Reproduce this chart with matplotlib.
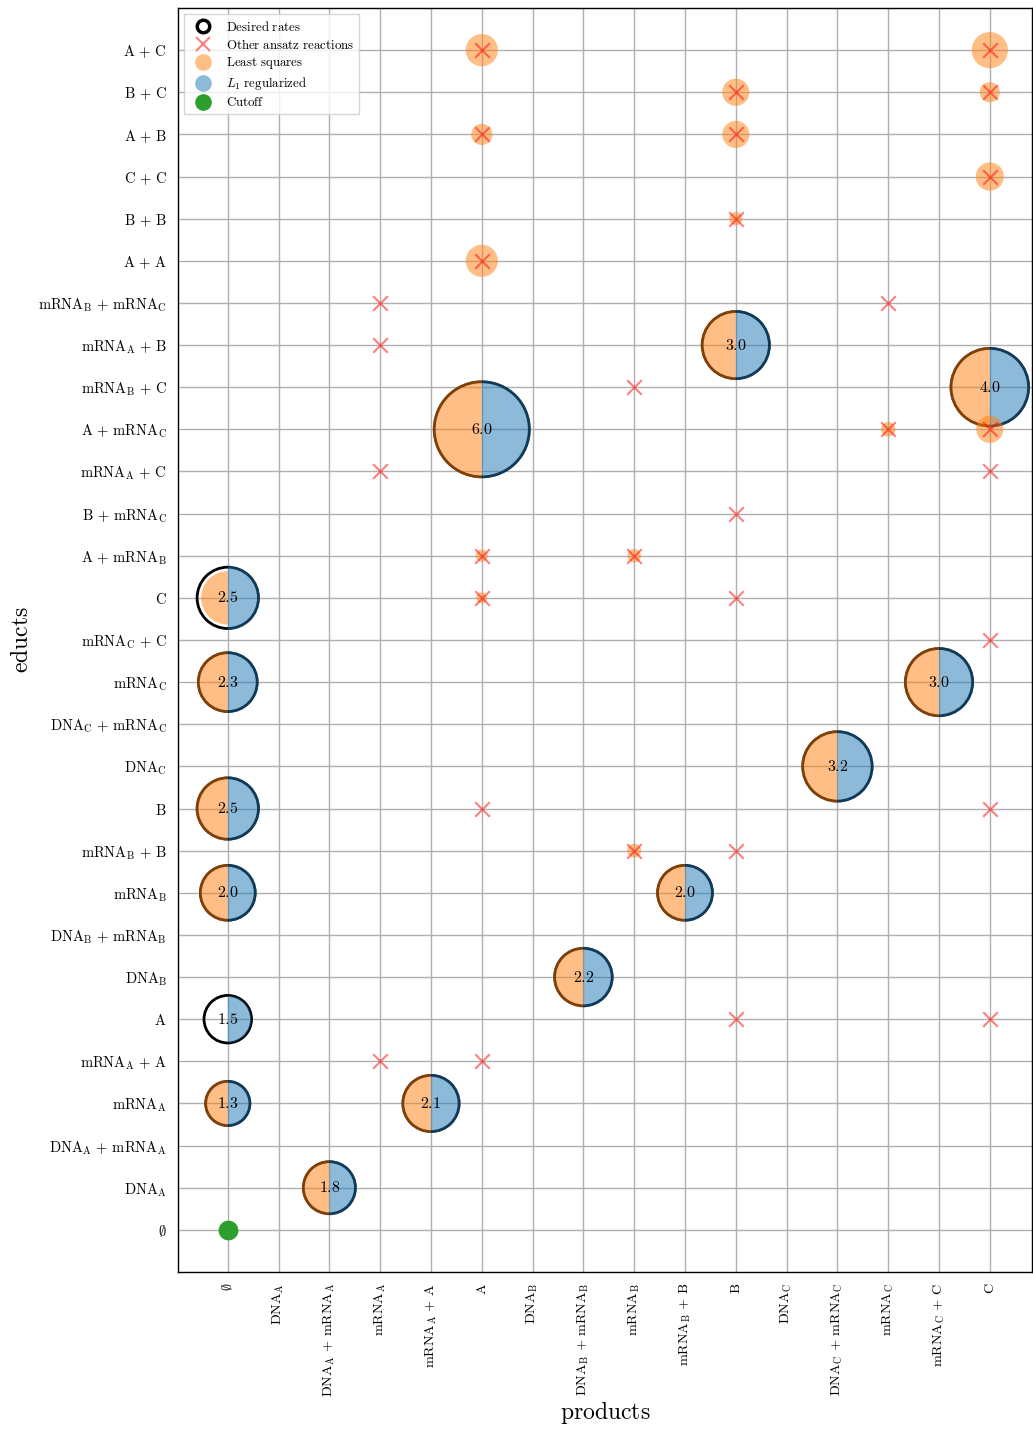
import matplotlib
matplotlib.use("Agg")
import matplotlib.pyplot as plt
from matplotlib.markers import MarkerStyle
from matplotlib.lines import Line2D

plt.rcParams['mathtext.fontset'] = 'cm'
plt.rcParams['font.family'] = ['DejaVu Serif']

def m(s):
    return r'$' + s + r'$'

R = r'\mathrm'
P = r'\,+\,'
educts = [r'\emptyset', R+'{DNA}_'+R+'{A}', R+'{DNA}_'+R+'{A}'+P+R+'{mRNA}_'+R+'{A}',
          R+'{mRNA}_'+R+'{A}', R+'{mRNA}_'+R+'{A}'+P+R+'{A}', R+'{A}',
          R+'{DNA}_'+R+'{B}', R+'{DNA}_'+R+'{B}'+P+R+'{mRNA}_'+R+'{B}',
          R+'{mRNA}_'+R+'{B}', R+'{mRNA}_'+R+'{B}'+P+R+'{B}', R+'{B}',
          R+'{DNA}_'+R+'{C}', R+'{DNA}_'+R+'{C}'+P+R+'{mRNA}_'+R+'{C}',
          R+'{mRNA}_'+R+'{C}', R+'{mRNA}_'+R+'{C}'+P+R+'{C}', R+'{C}',
          R+'{A}'+P+R+'{mRNA}_'+R+'{B}', R+'{B}'+P+R+'{mRNA}_'+R+'{C}',
          R+'{mRNA}_'+R+'{A}'+P+R+'{C}', R+'{A}'+P+R+'{mRNA}_'+R+'{C}',
          R+'{mRNA}_'+R+'{B}'+P+R+'{C}', R+'{mRNA}_'+R+'{A}'+P+R+'{B}',
          R+'{mRNA}_'+R+'{B}'+P+R+'{mRNA}_'+R+'{C}',
          R+'{A}'+P+R+'{A}', R+'{B}'+P+R+'{B}', R+'{C}'+P+R+'{C}',
          R+'{A}'+P+R+'{B}', R+'{B}'+P+R+'{C}', R+'{A}'+P+R+'{C}']
products = educts[:16]

# desired reactions: (product index, educt index, desired rate, least squares, L1)
des_prod = [2, 0, 4, 0, 7, 0, 9, 0, 12, 0, 14, 0, 5, 15, 10]
des_educ = [1, 3, 3, 5, 6, 8, 8, 10, 11, 13, 13, 15, 19, 20, 21]
des_val  = [1.8, 1.3, 2.1, 1.5, 2.2, 2.0, 2.0, 2.5, 3.2, 2.3, 3.0, 2.5, 6.0, 4.0, 3.0]
des_ls   = [1.8, 1.3, 2.1, 0.0, 2.2, 2.0, 2.0, 2.5, 3.2, 2.3, 3.0, 1.7, 6.0, 4.0, 3.0]
des_l1   = [1.8, 1.3, 2.1, 1.3, 2.2, 2.0, 2.0, 2.5, 3.2, 2.3, 3.0, 2.5, 6.0, 4.0, 3.0]

# other ansatz reactions: (product, educt, least squares value)
oth_prod = [3, 5, 10, 15, 8, 10, 5, 15, 15, 5, 10, 5, 8, 10, 3, 15, 13, 15, 8, 3, 3, 13,
            5, 10, 15, 5, 10, 10, 15, 5, 15]
oth_educ = [4, 4, 5, 5, 9, 9, 10, 10, 14, 15, 15, 16, 16, 17, 18, 18, 19, 19, 20, 21, 22, 22,
            23, 24, 25, 26, 26, 27, 27, 28, 28]
oth_ls   = [0, 0, 0, 0, 0.13, 0, 0, 0, 0, 0.08, 0, 0.1, 0.12, 0, 0, 0, 0.14, 0.49, 0, 0, 0, 0,
            0.69, 0.12, 0.53, 0.3, 0.49, 0.49, 0.27, 0.69, 0.87]

cutoff_prod = [0]
cutoff_educ = [0]
cutoff_val = [0.26]

K = 780.0
RING_LW = 2.0

def half_size(v):
    if v <= 0:
        return 0.0
    return ((K * v) ** 0.5 + RING_LW) ** 2

fig = plt.figure(figsize=(10.33, 14.30), dpi=100)
ax = fig.add_axes([0.1723, 0.1105, 0.8267, 0.8839])

ax.set_axisbelow(True)
ax.grid(True, color='#b0b0b0', linewidth=1.0)

# desired rings
ax.scatter(des_prod, des_educ, s=[K * v for v in des_val], facecolors='none',
           edgecolors='black', linewidths=RING_LW, zorder=2)
left = MarkerStyle('o', fillstyle='left')
right = MarkerStyle('o', fillstyle='right')
ax.scatter(des_prod, des_educ, s=[half_size(v) for v in des_ls], marker=left,
           color='tab:orange', alpha=0.5, linewidths=0, zorder=3)
ax.scatter(des_prod, des_educ, s=[half_size(v) for v in des_l1], marker=right,
           color='tab:blue', alpha=0.5, linewidths=0, zorder=3)
# least squares for other reactions
ax.scatter(oth_prod, oth_educ, s=[K * v for v in oth_ls], color='tab:orange',
           alpha=0.5, linewidths=0, zorder=3)
ax.scatter(oth_prod, oth_educ, s=110, marker='x', color='red', alpha=0.5,
           linewidths=1.5, zorder=4)
ax.scatter(cutoff_prod, cutoff_educ, s=[K * v for v in cutoff_val], color='tab:green',
           linewidths=0, zorder=4)

for p, e, v in zip(des_prod, des_educ, des_val):
    ax.text(p, e, m(R + '{%.1f}' % v), ha='center', va='center', fontsize=11.5, zorder=5)

ax.set_xticks(range(len(products)))
ax.set_xticklabels([m(s) for s in products], rotation=90, fontsize=10.2)
ax.set_yticks(range(len(educts)))
ax.set_yticklabels([m(s) for s in educts], fontsize=10.5)
ax.tick_params(length=0, pad=8)
ax.set_xlim(-0.98, 15.83)
ax.set_ylim(-1, 29)
for sp in ax.spines.values():
    sp.set_color('black')
    sp.set_linewidth(1.0)

ax.set_xlabel(m(R + '{products}'), fontsize=17, labelpad=1)
ax.set_ylabel(m(R + '{educts}'), fontsize=17)

handles = [
    Line2D([], [], marker='o', linestyle='none', markerfacecolor='none',
           markeredgecolor='black', markeredgewidth=2.5, markersize=9),
    Line2D([], [], marker='x', linestyle='none', color='red', alpha=0.5,
           markeredgewidth=1.5, markersize=10),
    Line2D([], [], marker='o', linestyle='none', color='tab:orange', alpha=0.5,
           markeredgewidth=0, markersize=12),
    Line2D([], [], marker='o', linestyle='none', color='tab:blue', alpha=0.5,
           markeredgewidth=0, markersize=12),
    Line2D([], [], marker='o', linestyle='none', color='tab:green',
           markeredgewidth=0, markersize=12),
]
labels = [m(R + r'{Desired\ rates}'), m(R + r'{Other\ ansatz\ reactions}'),
          m(R + r'{Least\ squares}'), m(r'L_1\ ' + R + '{regularized}'), m(R + '{Cutoff}')]
leg = ax.legend(handles, labels, loc='upper left', fontsize=9.3, fancybox=False,
                edgecolor='#cccccc', framealpha=0.8, handletextpad=0.8,
                borderpad=0.4, labelspacing=0.3)

fig.savefig('out.png', dpi=100)
